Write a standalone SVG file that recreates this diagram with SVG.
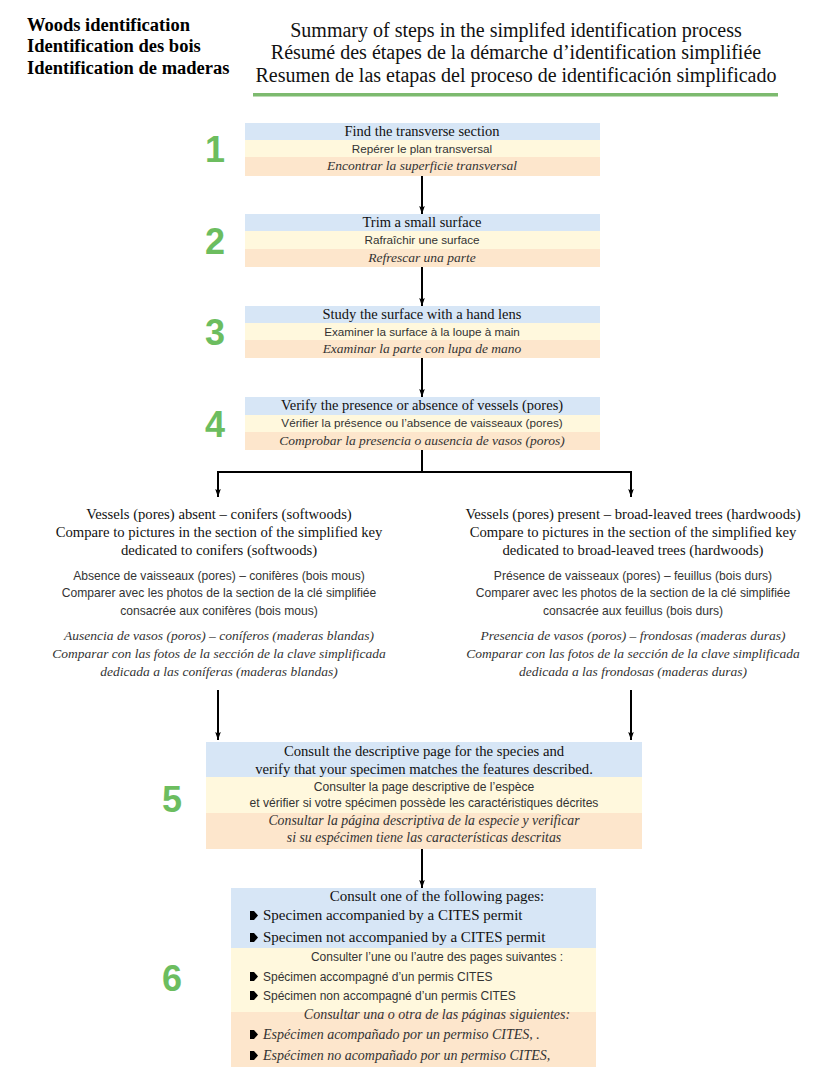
<svg xmlns="http://www.w3.org/2000/svg" width="818" height="1076" viewBox="0 0 818 1076">
<style>
.hdr{font-family:"Liberation Serif",serif;font-weight:bold;font-size:18.5px;fill:#000}
.ttl{font-family:"Liberation Serif",serif;font-size:20px;fill:#111;text-anchor:middle}
.en{font-family:"Liberation Serif",serif;font-size:14.5px;fill:#111;text-anchor:middle}
.fr{font-family:"Liberation Sans",sans-serif;font-size:11.7px;fill:#333;text-anchor:middle}
.frs{font-family:"Liberation Sans",sans-serif;font-size:12.1px;fill:#333;text-anchor:middle}
.es{font-family:"Liberation Serif",serif;font-style:italic;font-size:13.5px;fill:#333;text-anchor:middle}
.en14{font-family:"Liberation Serif",serif;font-size:14.7px;fill:#111;text-anchor:middle}
.bl{font-family:"Liberation Serif",serif;font-size:15px;fill:#111}
.blfr{font-family:"Liberation Sans",sans-serif;font-size:12px;fill:#333}
.bles{font-family:"Liberation Serif",serif;font-style:italic;font-size:14px;fill:#333}
.num{font-family:"Liberation Sans",sans-serif;font-weight:bold;font-size:36px;fill:#6cbd5f;text-anchor:middle}
.blue{fill:#d7e6f6}
.yel{fill:#fff8dd}
.ora{fill:#fde6cc}
.ln{stroke:#000;stroke-width:2;fill:none}
</style>
<defs>
<marker id="ah" viewBox="0 0 10 10" refX="10" refY="5" markerWidth="4" markerHeight="6" markerUnits="strokeWidth" orient="auto">
<path d="M0,1.5 L10,5 L0,8.5 L2,5 Z" fill="#000"/>
</marker>
<path id="bul" d="M-4,-9 L0,-9 L4,-4.5 L0,0 L-4,0 Z" fill="#000"/>
</defs>

<g id="header">
<text class="hdr" x="27" y="31">Woods identification</text>
<text class="hdr" x="27" y="52">Identification des bois</text>
<text class="hdr" x="27" y="74">Identification de maderas</text>
</g>

<g id="title">
<text class="ttl" x="516" y="37">Summary of steps in the simplifed identification process</text>
<text class="ttl" x="516" y="59">Résumé des étapes de la démarche d’identification simplifiée</text>
<text class="ttl" x="516" y="82">Resumen de las etapas del proceso de identificación simplificado</text>
<rect x="253" y="93" width="525" height="3.5" fill="#7dba6f"/>
</g>

<g id="step1">
<rect class="blue" x="245" y="123" width="355" height="17"/>
<rect class="yel" x="245" y="140" width="355" height="17"/>
<rect class="ora" x="245" y="157" width="355" height="19"/>
<text class="num" x="215" y="162">1</text>
<text class="en" x="422" y="136">Find the transverse section</text>
<text class="fr" x="422" y="153">Repérer le plan transversal</text>
<text class="es" x="422" y="170">Encontrar la superficie transversal</text>
</g>

<g id="step2">
<rect class="blue" x="245" y="214" width="355" height="17"/>
<rect class="yel" x="245" y="231" width="355" height="18"/>
<rect class="ora" x="245" y="249" width="355" height="18"/>
<text class="num" x="215" y="254">2</text>
<text class="en" x="422" y="227">Trim a small surface</text>
<text class="fr" x="422" y="244">Rafraîchir une surface</text>
<text class="es" x="422" y="262">Refrescar una parte</text>
</g>

<g id="step3">
<rect class="blue" x="245" y="306" width="355" height="17"/>
<rect class="yel" x="245" y="323" width="355" height="17"/>
<rect class="ora" x="245" y="340" width="355" height="18"/>
<text class="num" x="215" y="345">3</text>
<text class="en" x="422" y="319">Study the surface with a hand lens</text>
<text class="fr" x="422" y="336">Examiner la surface à la loupe à main</text>
<text class="es" x="422" y="353">Examinar la parte con lupa de mano</text>
</g>

<g id="step4">
<rect class="blue" x="245" y="397" width="355" height="18"/>
<rect class="yel" x="245" y="415" width="355" height="17"/>
<rect class="ora" x="245" y="432" width="355" height="18"/>
<text class="num" x="215" y="437">4</text>
<text class="en" x="422" y="410">Verify the presence or absence of vessels (pores)</text>
<text class="fr" x="422" y="427">Vérifier la présence ou l’absence de vaisseaux (pores)</text>
<text class="es" x="422" y="445">Comprobar la presencia o ausencia de vasos (poros)</text>
</g>

<g id="conifers">
<text class="en14" x="219" y="519">Vessels (pores) absent – conifers (softwoods)</text>
<text class="en14" x="219" y="537">Compare to pictures in the section of the simplified key</text>
<text class="en14" x="219" y="555">dedicated to conifers (softwoods)</text>
<text class="frs" x="219" y="580">Absence de vaisseaux (pores) – conifères (bois mous)</text>
<text class="frs" x="219" y="597">Comparer avec les photos de la section de la clé simplifiée</text>
<text class="frs" x="219" y="615">consacrée aux conifères (bois mous)</text>
<text class="es" x="219" y="640">Ausencia de vasos (poros) – coníferos (maderas blandas)</text>
<text class="es" x="219" y="658">Comparar con las fotos de la sección de la clave simplificada</text>
<text class="es" x="219" y="676">dedicada a las coníferas (maderas blandas)</text>
</g>

<g id="hardwoods">
<text class="en14" x="633" y="519">Vessels (pores) present – broad-leaved trees (hardwoods)</text>
<text class="en14" x="633" y="537">Compare to pictures in the section of the simplified key</text>
<text class="en14" x="633" y="555">dedicated to broad-leaved trees (hardwoods)</text>
<text class="frs" x="633" y="580">Présence de vaisseaux (pores) – feuillus (bois durs)</text>
<text class="frs" x="633" y="597">Comparer avec les photos de la section de la clé simplifiée</text>
<text class="frs" x="633" y="615">consacrée aux feuillus (bois durs)</text>
<text class="es" x="633" y="640">Presencia de vasos (poros) – frondosas (maderas duras)</text>
<text class="es" x="633" y="658">Comparar con las fotos de la sección de la clave simplificada</text>
<text class="es" x="633" y="676">dedicada a las frondosas (maderas duras)</text>
</g>

<g id="step5">
<rect class="blue" x="206" y="742" width="436" height="35"/>
<rect class="yel" x="206" y="777" width="436" height="36"/>
<rect class="ora" x="206" y="813" width="436" height="36"/>
<text class="num" x="172" y="812">5</text>
<text class="en14" x="424" y="756">Consult the descriptive page for the species and</text>
<text class="en14" x="424" y="774">verify that your specimen matches the features described.</text>
<text class="frs" x="424" y="791">Consulter la page descriptive de l’espèce</text>
<text class="frs" x="424" y="807">et vérifier si votre spécimen possède les caractéristiques décrites</text>
<text class="es" x="424" y="825" style="font-size:13.8px">Consultar la página descriptiva de la especie y verificar</text>
<text class="es" x="424" y="842" style="font-size:13.8px">si su espécimen tiene las características descritas</text>
</g>

<g id="step6">
<rect class="blue" x="231" y="888" width="365" height="60"/>
<rect class="yel" x="231" y="948" width="365" height="64"/>
<rect class="ora" x="231" y="1012" width="365" height="55"/>
<text class="num" x="172" y="991">6</text>
<text class="en14" x="437" y="901" style="font-size:15px">Consult one of the following pages:</text>
<use href="#bul" x="254" y="920"/>
<text class="bl" x="263" y="920">Specimen accompanied by a CITES permit</text>
<use href="#bul" x="254" y="942"/>
<text class="bl" x="263" y="942">Specimen not accompanied by a CITES permit</text>
<text class="fr" x="437" y="961" style="font-size:12px">Consulter l’une ou l’autre des pages suivantes :</text>
<use href="#bul" x="254" y="981"/>
<text class="blfr" x="263" y="981">Spécimen accompagné d’un permis CITES</text>
<use href="#bul" x="254" y="1000"/>
<text class="blfr" x="263" y="1000">Spécimen non accompagné d’un permis CITES</text>
<text class="es" x="437" y="1019" style="font-size:14px">Consultar una o otra de las páginas siguientes:</text>
<use href="#bul" x="254" y="1039"/>
<text class="bles" x="263" y="1039">Espécimen acompañado por un permiso CITES, .</text>
<use href="#bul" x="254" y="1060"/>
<text class="bles" x="263" y="1060">Espécimen no acompañado por un permiso CITES,</text>
</g>

<g id="connectors">
<line class="ln" x1="422" y1="176" x2="422" y2="214" marker-end="url(#ah)"/>
<line class="ln" x1="422" y1="267" x2="422" y2="306" marker-end="url(#ah)"/>
<line class="ln" x1="422" y1="358" x2="422" y2="397" marker-end="url(#ah)"/>
<line class="ln" x1="422" y1="450" x2="422" y2="472"/>
<path class="ln" d="M218,497 V472 H631 V497" stroke-linejoin="miter"/>
<line class="ln" x1="218" y1="480" x2="218" y2="497" marker-end="url(#ah)"/>
<line class="ln" x1="631" y1="480" x2="631" y2="497" marker-end="url(#ah)"/>
<line class="ln" x1="218" y1="690" x2="218" y2="740" marker-end="url(#ah)"/>
<line class="ln" x1="631" y1="690" x2="631" y2="740" marker-end="url(#ah)"/>
<line class="ln" x1="422" y1="849" x2="422" y2="888" marker-end="url(#ah)"/>
</g>
</svg>
